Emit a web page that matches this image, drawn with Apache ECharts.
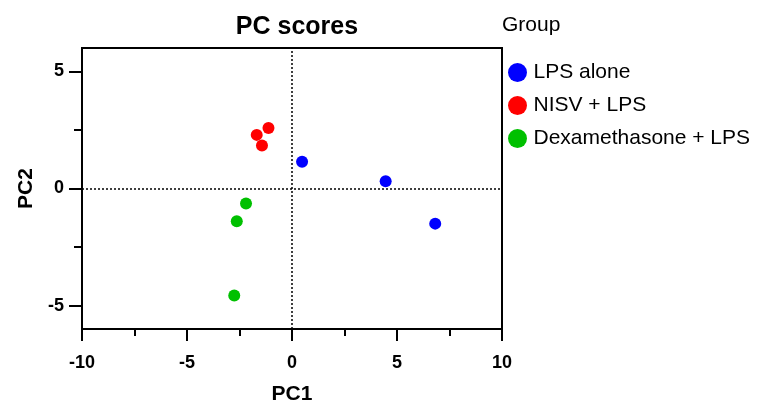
<!DOCTYPE html>
<html><head><meta charset="utf-8">
<script src="https://cdn.jsdelivr.net/npm/echarts@6/dist/echarts.min.js"></script>
<style>html,body{margin:0;padding:0;background:#fff}#c{width:773px;height:406px}</style>
</head><body><div id="c"></div>
<script>
const groups = ["LPS alone", "NISV + LPS", "Dexamethasone + LPS"];
const colors = ["#0000ff", "#ff0000", "#00c000"];
const lpsAlone = [[0.48, 1.14], [4.46, 0.31], [6.82, -1.50]];
const nisvLps = [[-1.12, 2.58], [-1.68, 2.29], [-1.43, 1.84]];
const dexaLps = [[-2.19, -0.64], [-2.63, -1.40], [-2.75, -4.57]];
const xMajorTicks = [-10, -5, 0, 5, 10];
const yMajorTicks = [-5, 0, 5];
const yMinorTicks = [-2.5, 2.5];

const font = 'Liberation Sans, Arial, sans-serif';
const chart = echarts.init(document.getElementById('c'), null, {renderer: 'canvas'});
const seriesData = [lpsAlone, nisvLps, dexaLps];
const series = groups.map((g, i) => ({
  name: g, type: 'scatter', data: seriesData[i], symbolSize: 12,
  itemStyle: {color: colors[i], opacity: 1}, z: 5
}));
series.push({
  type: 'scatter', data: [], silent: true,
  markLine: {
    silent: true, symbol: 'none', label: {show: false},
    lineStyle: {color: '#000', type: [2, 2], width: 1.5},
    data: [{xAxis: 0}, {yAxis: 0}]
  }
});
chart.setOption({
  animation: false,
  title: {text: 'PC scores', left: 292, top: 10, textAlign: 'center',
    textStyle: {fontFamily: font, fontSize: 25, fontWeight: 'bold', color: '#000'}},
  graphic: [{type: 'text', left: 502, top: 15,
    style: {text: 'Group', font: '21px ' + font, fill: '#000'}}],
  legend: {
    orient: 'vertical', left: 503, top: 57, itemGap: 12,
    icon: 'circle', itemWidth: 22, itemHeight: 19,
    data: groups,
    textStyle: {fontFamily: font, fontSize: 21, color: '#000'}
  },
  grid: {left: 82, right: 271, top: 48, bottom: 77, show: true,
    containLabel: false, outerBoundsMode: 'none',
    borderColor: '#000', borderWidth: 2, backgroundColor: 'transparent'},
  xAxis: {
    type: 'value', min: -10, max: 10, interval: 5,
    name: 'PC1', nameLocation: 'middle', nameGap: 55,
    nameTextStyle: {fontFamily: font, fontSize: 21, fontWeight: 'bold', color: '#000'},
    axisLine: {show: true, onZero: false, lineStyle: {color: '#000', width: 2}},
    axisTick: {show: true, length: 12, lineStyle: {color: '#000', width: 2}},
    minorTick: {show: true, splitNumber: 2, length: 7, lineStyle: {color: '#000', width: 2}},
    axisLabel: {margin: 25, fontFamily: font, fontSize: 18, fontWeight: 'bold', color: '#000'},
    splitLine: {show: false}
  },
  yAxis: [{
    type: 'value', min: -6, max: 6,
    name: 'PC2', nameLocation: 'middle', nameGap: 45,
    nameTextStyle: {fontFamily: font, fontSize: 21, fontWeight: 'bold', color: '#000'},
    axisLine: {show: true, onZero: false, lineStyle: {color: '#000', width: 2}},
    axisTick: {show: true, length: 13, customValues: yMajorTicks, lineStyle: {color: '#000', width: 2}},
    axisLabel: {margin: 18, customValues: yMajorTicks, fontFamily: font, fontSize: 18, fontWeight: 'bold', color: '#000'},
    splitLine: {show: false}
  }, {
    type: 'value', min: -6, max: 6, position: 'left',
    axisLine: {show: false, onZero: false},
    axisTick: {show: true, length: 8, customValues: yMinorTicks, lineStyle: {color: '#000', width: 2}},
    axisLabel: {show: false},
    splitLine: {show: false}
  }],
  series: series
});
</script></body></html>
